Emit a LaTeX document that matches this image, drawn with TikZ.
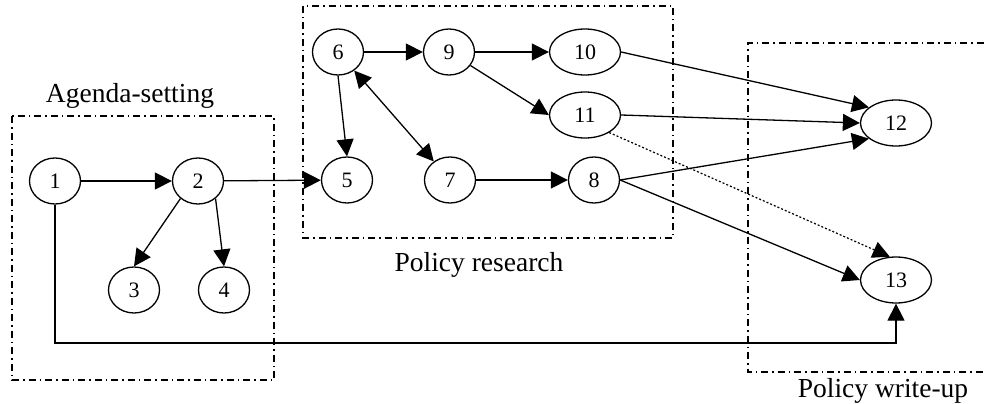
\documentclass[tikz,border=0pt]{standalone}
\usepackage{fontspec}
\setmainfont{Liberation Serif}
\usetikzlibrary{arrows.meta,shapes.geometric}
\begin{document}
\begin{tikzpicture}[x=1pt,y=-1pt,
  nd/.style={draw,ellipse,line width=1.3pt,minimum width=51pt,minimum height=46pt,inner sep=0pt,font=\fontsize{22}{26}\selectfont},
  wide/.style={nd,minimum width=71pt},
  grp/.style={draw,line width=1.1pt,dash pattern=on 7pt off 4pt on 1.5pt off 4pt},
  arr/.style={line width=1.3pt,-{Triangle[length=17pt,width=17pt]}},
  biarr/.style={line width=1.3pt,{Triangle[length=17pt,width=17pt]}-{Triangle[length=17pt,width=17pt]}},
  dotarr/.style={line width=1.2pt,dash pattern=on 2pt off 2pt,-{Triangle[length=17pt,width=17pt]}},
  lbl/.style={anchor=base,inner sep=0pt,font=\fontsize{27.5}{32}\selectfont}]
\useasboundingbox (0,0) rectangle (985,404);
% group boxes
\draw[grp] (12,116) rectangle (274,380);
\draw[grp] (303,6) rectangle (673,238);
\draw[grp] (1000,43) -- (748,43) -- (748,372) -- (1000,372);
\node[lbl] (la) at (130,102) {Agenda-setting};
\node[lbl] (lr) at (479,271) {Policy research};
\node[lbl] (lw) at (883,397) {Policy write-up};
% nodes
\node[nd] (n1) at (55,181) {1};
\node[nd] (n2) at (198,181) {2};
\node[nd] (n3) at (134,290) {3};
\node[nd] (n4) at (224,290) {4};
\node[nd] (n5) at (347,180) {5};
\node[nd] (n6) at (338,52) {6};
\node[nd] (n9) at (449,52) {9};
\node[wide] (n10) at (585,52) {10};
\node[wide] (n11) at (585,115) {11};
\node[nd] (n7) at (450,180) {7};
\node[nd] (n8) at (594,180) {8};
\node[wide] (n12) at (896,123) {12};
\node[wide] (n13) at (896,280) {13};
% edges
\draw[arr] (n1) -- (n2);
\draw[arr] (n2) -- (n5);
\draw[arr] (n2.-135) -- (n3.north);
\draw[arr] (n2.-45) -- (n4.north);
\draw[arr] (n6) -- (n9);
\draw[arr] (n9) -- (n10);
\draw[arr] (n9) -- (n11.west);
\draw[arr] (n6.south) -- (n5.north);
\draw[biarr] (n6) -- (n7);
\draw[arr] (n7) -- (n8);
\draw[arr] (n10.east) -- (n12.150);
\draw[arr] (n11.east) -- (n12.west);
\draw[arr] (n8.east) -- (n12.-150);
\draw[arr] (n8.east) -- (n13.west);
\draw[dotarr] (n11.-36) -- (n13.105);
\coordinate (bend) at (55,343);
\draw[arr] (n1.south) -- (bend) -| (n13.south);
\end{tikzpicture}
\end{document}
